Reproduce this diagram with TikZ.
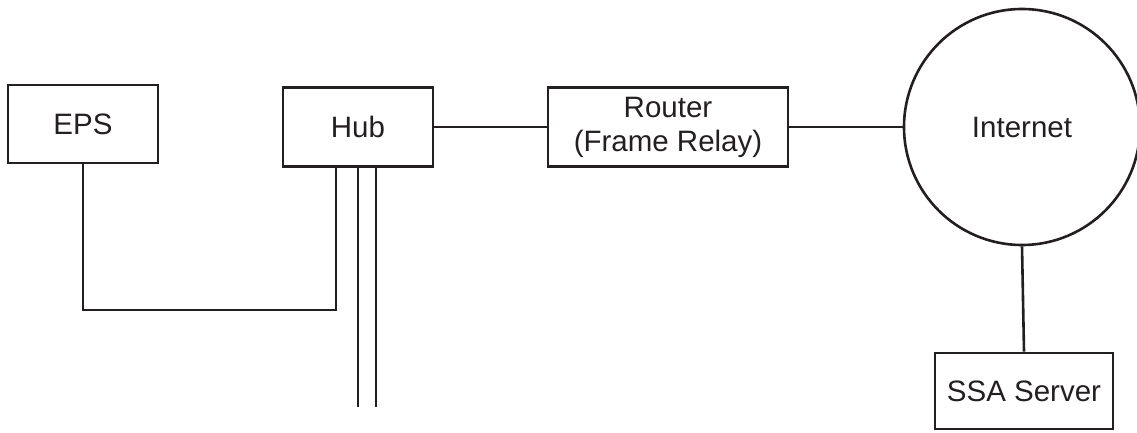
\documentclass[tikz,border=0pt]{standalone}
\usepackage{fontspec}
\setmainfont{Liberation Sans}
\usetikzlibrary{calc}
\definecolor{ink}{HTML}{231F20}
\begin{document}
\begin{tikzpicture}[x=1pt,y=-1pt,
  every node/.style={font=\fontsize{29.5}{34}\selectfont, text=ink},
  box/.style={draw=ink, line width=2.6pt, rectangle, inner sep=0pt, align=center},
  cloud/.style={draw=ink, line width=2.6pt, circle, inner sep=0pt, minimum size=236pt},
  wire/.style={draw=ink, line width=2.6pt}]
  \useasboundingbox (0,0) rectangle (1137,433);

  % devices
  \node[box, minimum width=150pt, minimum height=78pt] (eps) at (83,124) {EPS};
  \node[box, minimum width=150pt, minimum height=79pt] (hub) at (358,127) {Hub};
  \node[box, minimum width=240pt, minimum height=79pt] (router) at (668,127) {Router\\(Frame Relay)};
  \node[cloud] (net) at (1022,127) {Internet};
  \node[box, minimum width=178pt, minimum height=76pt] (ssa) at (1024,391) {SSA Server};

  % links between devices
  \draw[wire] (hub.east) -- (router.west);
  \draw[wire] (router.east) -- (net.west);
  \draw[wire] (net.south) -- (ssa.north);

  % EPS to hub
  \coordinate (hubA) at ($(hub.south)+(-22,0)$);
  \draw[wire] (eps.south) |- (336,310) -- (hubA);

  % open ports leaving the hub
  \coordinate (hubB) at (hub.south);
  \coordinate (hubC) at ($(hub.south)+(18,0)$);
  \coordinate (endB) at (358,407);
  \coordinate (endC) at (376,407);
  \draw[wire] (hubB) -- (endB);
  \draw[wire] (hubC) -- (endC);
\end{tikzpicture}
\end{document}
